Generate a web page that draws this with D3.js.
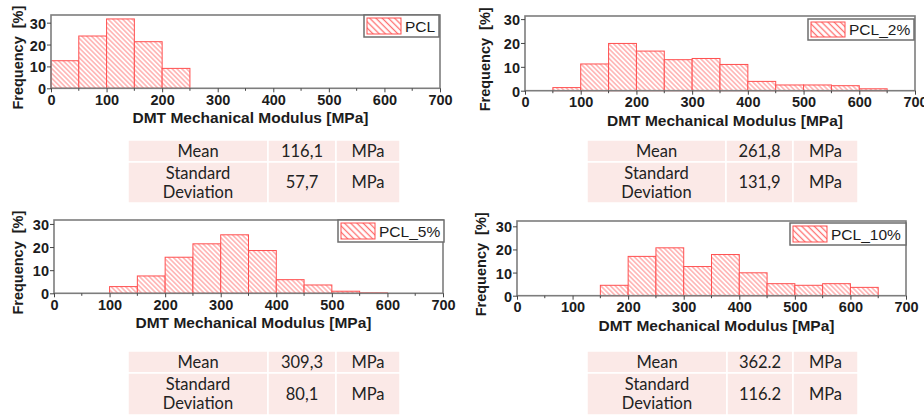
<!DOCTYPE html>
<html>
<head>
<meta charset="utf-8">
<script src="https://cdn.jsdelivr.net/npm/d3@7"></script>
<style>
  html, body { margin: 0; padding: 0; background: #fff; }
  svg { display: block; }
</style>
</head>
<body>
<svg id="chart" width="924" height="416"></svg>
<script>
// Histogram data: bin start [MPa] and frequency [%] for each sample
const binWidth = 50;
const pclBins = [0, 50, 100, 150, 200];
const pclFreq = [12.6, 23.9, 31.7, 21.3, 9.1];
const pcl2Bins = [50, 100, 150, 200, 250, 300, 350, 400, 450, 500, 550, 600];
const pcl2Freq = [1.3, 11.2, 19.8, 16.6, 13.0, 13.5, 11.0, 3.9, 2.4, 2.4, 2.1, 0.8];
const pcl5Bins = [100, 150, 200, 250, 300, 350, 400, 450, 500, 550];
const pcl5Freq = [2.9, 7.5, 15.6, 21.4, 25.3, 18.5, 5.9, 3.6, 0.9, 0.2];
const pcl10Bins = [150, 200, 250, 300, 350, 400, 450, 500, 550, 600];
const pcl10Freq = [4.5, 17.0, 20.7, 12.6, 17.8, 9.9, 5.2, 4.5, 5.2, 3.6];

const seriesNames = ["PCL", "PCL_2%", "PCL_5%", "PCL_10%"];
const xTicks = [0, 100, 200, 300, 400, 500, 600, 700];
const xMinorTicks = [50, 150, 250, 350, 450, 550, 650];
const yTicks = [0, 10, 20, 30];
const xDomain = [0, 700];

// Summary statistics shown below each histogram
const statLabels = ["Mean", "Standard\nDeviation"];
const statUnit = "MPa";
const meanValues = ["116,1", "261,8", "309,3", "362.2"];
const sdValues = ["57,7", "131,9", "80,1", "116.2"];

const seriesBins = [pclBins, pcl2Bins, pcl5Bins, pcl10Bins];
const seriesFreq = [pclFreq, pcl2Freq, pcl5Freq, pcl10Freq];

// Panel geometry (plot frame, y extent, legend box, stats table)
const panels = [
  { L: 51,  R: 440, T: 15,  B: 88.3,  yMax: 33.5, yLabX: 18,  leg: [364, 15, 75, 22],  tab: [128, 140, 140, 68, 64, 22, 41] },
  { L: 525, R: 915, T: 16,  B: 90.7,  yMax: 31.3, yLabX: 485, leg: [808, 19, 106, 21], tab: [587, 140, 139, 67, 65, 22, 41] },
  { L: 54,  R: 443, T: 220, B: 293.3, yMax: 31.7, yLabX: 18,  leg: [338, 220, 106, 22], tab: [128, 351, 140, 68, 64, 22, 42] },
  { L: 517, R: 906, T: 221, B: 295.7, yMax: 32.3, yLabX: 481, leg: [790, 223, 116, 22], tab: [587, 351, 140, 66, 65, 22, 42] }
];

const svg = d3.select("#chart");
const defs = svg.append("defs");

// diagonal "\" hatching
function hatch(id, gap, stroke, sw) {
  const p = defs.append("pattern")
    .attr("id", id)
    .attr("patternUnits", "userSpaceOnUse")
    .attr("width", gap)
    .attr("height", 10)
    .attr("patternTransform", "rotate(-45)");
  p.append("rect").attr("width", gap).attr("height", 10).attr("fill", "#fff");
  p.append("line")
    .attr("x1", gap / 2).attr("x2", gap / 2)
    .attr("y1", 0).attr("y2", 10)
    .attr("stroke", stroke).attr("stroke-width", sw);
}
hatch("barHatch", 3.4, "#ff7a7a", 0.9);
hatch("legHatch", 4.4, "#ff7070", 1.3);

const RED = "#ff5050";
const FRAME = "#7d7d7d";
const INK = "#1c1c1c";

panels.forEach((pn, i) => {
  const x = d3.scaleLinear().domain(xDomain).range([pn.L, pn.R]);
  const y = d3.scaleLinear().domain([0, pn.yMax]).range([pn.B, pn.T]);
  const g = svg.append("g");

  // bars
  const bins = seriesBins[i].map((b, k) => ({ x0: b, x1: b + binWidth, v: seriesFreq[i][k] }));
  g.append("g").selectAll("rect").data(bins).join("rect")
    .attr("x", d => x(d.x0))
    .attr("y", d => y(d.v))
    .attr("width", d => x(d.x1) - x(d.x0))
    .attr("height", d => y(0) - y(d.v))
    .attr("fill", "url(#barHatch)")
    .attr("stroke", RED)
    .attr("stroke-width", 1);

  // frame
  g.append("rect")
    .attr("x", pn.L).attr("y", pn.T)
    .attr("width", pn.R - pn.L).attr("height", pn.B - pn.T)
    .attr("fill", "none").attr("stroke", FRAME).attr("stroke-width", 1.6);

  // x axis
  const xa = g.append("g").attr("transform", `translate(0,${pn.B})`)
    .call(d3.axisBottom(x).tickValues(xTicks).tickSize(4).tickSizeOuter(0).tickPadding(2));
  xa.append("g").selectAll("line").data(xMinorTicks).join("line")
    .attr("x1", d => x(d)).attr("x2", d => x(d))
    .attr("y1", 0).attr("y2", 2.5)
    .attr("stroke", "#444");
  // y axis
  const ya = g.append("g").attr("transform", `translate(${pn.L},0)`)
    .call(d3.axisLeft(y).tickValues(yTicks).tickSize(4).tickSizeOuter(0).tickPadding(1));

  [xa, ya].forEach(a => {
    a.select(".domain").remove();
    a.selectAll(".tick line").attr("stroke", "#444");
    a.selectAll("text")
      .attr("font-family", "Liberation Sans, Arial, sans-serif")
      .attr("font-weight", "bold")
      .attr("font-size", 14.5)
      .attr("fill", INK);
  });
  ya.selectAll("text").attr("dy", "0.38em");

  // axis titles
  g.append("text")
    .attr("x", (pn.L + pn.R) / 2 + 5)
    .attr("y", pn.B + 35)
    .attr("text-anchor", "middle")
    .attr("font-family", "Liberation Sans, Arial, sans-serif")
    .attr("font-weight", "bold")
    .attr("font-size", 15.5)
    .attr("fill", INK)
    .text("DMT Mechanical Modulus [MPa]");

  g.append("text")
    .attr("transform", `translate(${pn.yLabX + 5},${(pn.T + pn.B) / 2 + 6}) rotate(-90)`)
    .attr("text-anchor", "middle")
    .attr("font-family", "Liberation Sans, Arial, sans-serif")
    .attr("font-weight", "bold")
    .attr("font-size", 14.5)
    .attr("fill", INK)
    .style("white-space", "pre")
    .text("Frequency  [%]");

  // legend
  const [lx, ly, lw, lh] = pn.leg;
  g.append("rect")
    .attr("x", lx).attr("y", ly).attr("width", lw).attr("height", lh)
    .attr("fill", "#fff").attr("stroke", "#6e6e6e").attr("stroke-width", 1.5);
  g.append("rect")
    .attr("x", lx + 3).attr("y", ly + 3).attr("width", 34).attr("height", lh - 6)
    .attr("fill", "url(#legHatch)").attr("stroke", RED).attr("stroke-width", 1);
  g.append("text")
    .attr("x", lx + 41).attr("y", ly + lh / 2 + 5.5)
    .attr("font-family", "Liberation Sans, Arial, sans-serif")
    .attr("font-size", 15.5)
    .attr("fill", INK)
    .text(seriesNames[i]);

  // statistics table
  const [tx, ty, c1, c2, c3, r1, r2] = pn.tab;
  const cols = [tx, tx + c1, tx + c1 + c2];
  const widths = [c1, c2, c3];
  const rows = [ty, ty + r1];
  const heights = [r1, r2];
  const cells = [
    [statLabels[0], meanValues[i], statUnit],
    [statLabels[1], sdValues[i], statUnit]
  ];
  const tg = svg.append("g").attr("font-family", "Lato, 'Open Sans', sans-serif")
    .attr("font-size", 16.5).attr("fill", "#222");
  cells.forEach((row, r) => {
    row.forEach((txt, c) => {
      tg.append("rect")
        .attr("x", cols[c]).attr("y", rows[r])
        .attr("width", widths[c]).attr("height", heights[r])
        .attr("fill", "#fbe9e7").attr("stroke", "#fff").attr("stroke-width", 1.5);
      const lines = txt.split("\n");
      const cx = cols[c] + widths[c] / 2;
      const cy = rows[r] + heights[r] / 2;
      const lh2 = 19;
      lines.forEach((ln, k) => {
        tg.append("text")
          .attr("x", cx)
          .attr("y", cy + (k - (lines.length - 1) / 2) * lh2)
          .attr("dy", "0.36em")
          .attr("text-anchor", "middle")
          .text(ln);
      });
    });
  });
});
</script>
</body>
</html>
